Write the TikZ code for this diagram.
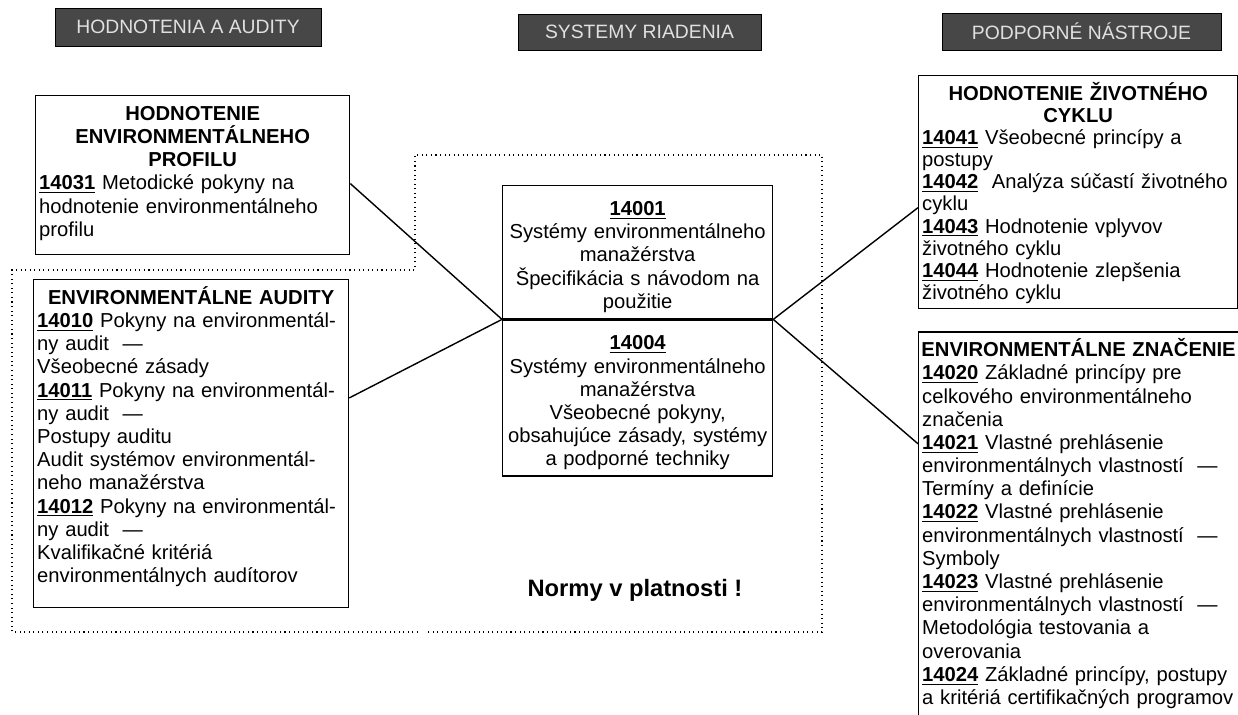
\documentclass[tikz,border=0pt]{standalone}
\usepackage{fontspec}
\setmainfont{Liberation Sans}
\usetikzlibrary{positioning}

\newcommand{\nr}[1]{\underline{\textbf{#1}}}
\newcommand{\hd}[1]{\makebox[\linewidth][c]{\bfseries #1}}

\tikzset{
  normbox/.style={draw, line width=0.8pt, anchor=north west, align=left,
    inner xsep=2pt, inner ysep=3pt, text height=11pt,
    font=\fontsize{11.5}{13.2}\selectfont},
  headbox/.style={draw, fill=black!72, text=black!12, inner sep=0pt,
    font=\fontsize{11}{13}\selectfont},
  link/.style={line width=0.8pt},
}

\begin{document}
\begin{tikzpicture}[x=0.02cm, y=-0.02cm]
    \useasboundingbox (0,0) rectangle (1238,715);
    \clip (0,0) rectangle (1238,715);

    % column headers
    \node[headbox, minimum width=151.4pt, minimum height=21.6pt] (h1) at (188,27) {HODNOTENIA A AUDITY};
    \node[headbox, minimum width=138.3pt, minimum height=20.5pt] (h2) at (639.5,32) {SYSTEMY RIADENIA};
    \node[headbox, minimum width=158.8pt, minimum height=21pt] (h3) at (1081.5,31.5) {PODPORNÉ NÁSTROJE};

    % dotted frame of the valid standards
    \draw[dotted, line width=0.6pt] (418,632) -- (12,632) -- (12,270) -- (415,270)
        -- (415,155) -- (822,155) -- (822,632) -- (425,632);

    % left column
    \node[normbox, text width=174.7pt, text depth=73.5pt] (prof) at (35,95)
    {\hd{HODNOTENIE}\\ \hd{ENVIRONMENTÁLNEHO}\\ \hd{PROFILU}\\
     \nr{14031} Metodické pokyny na\\
     hodnotenie environmentálneho\\
     profilu};
    \node[normbox, text width=175.2pt, text depth=169.6pt] (audit) at (33,279)
    {\hd{ENVIRONMENTÁLNE AUDITY}\\
     \nr{14010} Pokyny na environmentál-\\
     ny audit\ \ —\\
     Všeobecné zásady\\
     \nr{14011} Pokyny na environmentál-\\
     ny audit\ \ —\\
     Postupy auditu\\
     Audit systémov environmentál-\\
     neho manažérstva\\
     \nr{14012} Pokyny na environmentál-\\
     ny audit\ \ —\\
     Kvalifikačné kritériá\\
     environmentálnych audítorov};

    % middle column
    \node[normbox, align=center, text width=149.6pt, text height=14pt, text depth=55.7pt] (top) at (502,185)
    {\nr{14001}\\
     Systémy environmentálneho\\
     manažérstva\\
     Špecifikácia s návodom na\\
     použitie};
    \node[normbox, align=center, text width=149.6pt, text height=14pt, text depth=68.8pt,
          below=0pt of top.south west, anchor=north west] (bot)
    {\nr{14004}\\
     Systémy environmentálneho\\
     manažérstva\\
     Všeobecné pokyny,\\
     obsahujúce zásady, systémy\\
     a podporné techniky};
    \node[font=\fontsize{13.5}{16}\selectfont\bfseries] (note) at (635,590) {Normy v platnosti !};

    % right column
    \node[normbox, text width=177.5pt, text depth=115.6pt,
          font=\fontsize{11.5}{12.6}\selectfont] (cycle) at (918,75)
    {\hd{HODNOTENIE ŽIVOTNÉHO}\\ \hd{CYKLU}\\
     \nr{14041} Všeobecné princípy a\\
     postupy\\
     \nr{14042}\ \ Analýza súčastí životného\\
     cyklu\\
     \nr{14043} Hodnotenie vplyvov\\
     životného cyklu\\
     \nr{14044} Hodnotenie zlepšenia\\
     životného cyklu};
    \node[normbox, text width=178pt, text depth=210.6pt,
          below=12.5pt of cycle.south west, anchor=north west] (znac)
    {\hd{ENVIRONMENTÁLNE ZNAČENIE}\\
     \nr{14020} Základné princípy pre\\
     celkového environmentálneho\\
     značenia\\
     \nr{14021} Vlastné prehlásenie\\
     environmentálnych vlastností\ \ —\\
     Termíny a definície\\
     \nr{14022} Vlastné prehlásenie\\
     environmentálnych vlastností\ \ —\\
     Symboly\\
     \nr{14023} Vlastné prehlásenie\\
     environmentálnych vlastností\ \ —\\
     Metodológia testovania a\\
     overovania\\
     \nr{14024} Základné princípy, postupy\\
     a kritériá certifikačných programov};

    % connectors
    \draw[link] ([yshift=-4.8pt]prof.east) -- (top.south west);
    \draw[link] ([yshift=26pt]audit.east) -- (top.south west);
    \draw[link] (top.south east) -- ([yshift=-8.8pt]cycle.west);
    \draw[link] (top.south east) -- ([yshift=-64pt]znac.north west);
\end{tikzpicture}
\end{document}
